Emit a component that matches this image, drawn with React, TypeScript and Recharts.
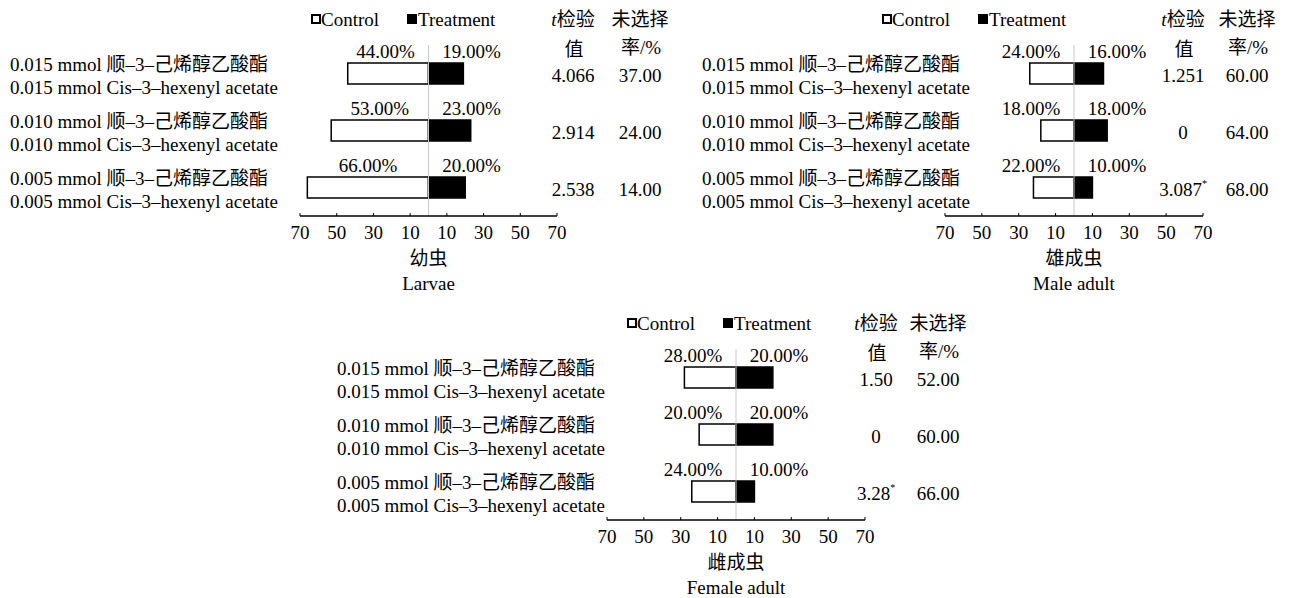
import React from 'react';
import { BarChart, Bar, XAxis, YAxis, ReferenceLine, LabelList } from 'recharts';

const FONT = "'Liberation Serif', 'Times New Roman', 'Noto Sans CJK SC', serif";
const FS = 19;

const doseCn = ['0.015 mmol 顺–3–己烯醇乙酸酯', '0.010 mmol 顺–3–己烯醇乙酸酯', '0.005 mmol 顺–3–己烯醇乙酸酯'];
const doseEn = ['0.015 mmol Cis–3–hexenyl acetate', '0.010 mmol Cis–3–hexenyl acetate', '0.005 mmol Cis–3–hexenyl acetate'];
const xTicks = [-70, -50, -30, -10, 10, 30, 50, 70];

const larvaeControl = [44, 53, 66];
const larvaeTreatment = [19, 23, 20];
const larvaeT = ['4.066', '2.914', '2.538'];
const larvaeSig = [false, false, false];
const larvaeRate = ['37.00', '24.00', '14.00'];

const maleControl = [24, 18, 22];
const maleTreatment = [16, 18, 10];
const maleT = ['1.251', '0', '3.087'];
const maleSig = [false, false, true];
const maleRate = ['60.00', '64.00', '68.00'];

const femaleControl = [28, 20, 24];
const femaleTreatment = [20, 20, 10];
const femaleT = ['1.50', '0', '3.28'];
const femaleSig = [false, false, true];
const femaleRate = ['52.00', '60.00', '66.00'];

type Row = { name: string; en: string; control: number; treatment: number; t: string; sig: boolean; rate: string };

const buildRows = (c: number[], tr: number[], t: string[], sig: boolean[], rate: string[]): Row[] =>
  doseCn.map((name, i) => ({ name, en: doseEn[i], control: -c[i], treatment: tr[i], t: t[i], sig: sig[i], rate: rate[i] }));

const PLOT_TOP = 45;
const AXIS_Y = 216;
const TICK_MARGIN = 6;

const XTick = (props: any) => {
  const { x, y, payload } = props;
  const ay = y - TICK_MARGIN;
  return (
    <g>
      <line x1={x} x2={x} y1={ay} y2={ay - 3} stroke="#000" strokeWidth={1} />
      <text x={x} y={ay + 22.5} textAnchor="middle" fontFamily={FONT} fontSize={FS} fill="#000">
        {Math.abs(payload.value)}
      </text>
    </g>
  );
};

const YTick = (props: any) => {
  const { y, payload, rows, labelX, tX, rateX } = props;
  const i = (rows as Row[]).findIndex((r) => r.name === payload.value);
  const r: Row = rows[i];
  if (!r) return null;
  return (
    <g>
      <text x={labelX} y={y - 3} textAnchor="start" fontFamily={FONT} fontSize={FS} fill="#000">{r.name}</text>
      <text x={labelX} y={y + 20} textAnchor="start" fontFamily={FONT} fontSize={FS} fill="#000">{r.en}</text>
      <text x={tX} y={y + 8} textAnchor="middle" fontFamily={FONT} fontSize={FS} fill="#000">
        {r.t}
        {r.sig ? <tspan dy={-9} fontSize={10}>*</tspan> : null}
      </text>
      <text x={rateX} y={y + 8} textAnchor="middle" fontFamily={FONT} fontSize={FS} fill="#000">{r.rate}</text>
    </g>
  );
};

const ValLabel = (props: any) => {
  const { x, y, width, height, value, side } = props;
  const l = Math.min(x, x + width);
  const rr = Math.max(x, x + width);
  const top = Math.min(y, y + height);
  let cx: number;
  if (side === 'control') cx = Math.min((l + rr) / 2, rr - 43);
  else cx = l + 43;
  return (
    <text x={cx} y={top - 5} textAnchor="middle" fontFamily={FONT} fontSize={FS} fill="#000">
      {Math.abs(value).toFixed(2) + '%'}
    </text>
  );
};

const Decor = (props: any) => {
  const { zeroX, titleCn, titleEn, legendX, tX, rateX } = props;
  const ly = 19;
  return (
    <g fontFamily={FONT} fontSize={FS} fill="#000">
      <rect x={legendX + 1} y={ly - 4} width={8} height={8} fill="#fff" stroke="#000" strokeWidth={2} />
      <text x={legendX + 10} y={ly + 6.5}>Control</text>
      <rect x={legendX + 96} y={ly - 5} width={10} height={10} fill="#000" />
      <text x={legendX + 107} y={ly + 6.5}>Treatment</text>
      <text x={tX} y={ly + 6.5} textAnchor="middle">
        <tspan fontStyle="italic">t</tspan>检验
      </text>
      <text x={tX + 1} y={ly + 36.5} textAnchor="middle">值</text>
      <text x={rateX} y={ly + 6.5} textAnchor="middle">未选择</text>
      <text x={rateX + 1} y={ly + 35} textAnchor="middle">率/%</text>
      <text x={zeroX} y={AXIS_Y + 48.5} textAnchor="middle">{titleCn}</text>
      <text x={zeroX} y={AXIS_Y + 73.5} textAnchor="middle">{titleEn}</text>
    </g>
  );
};

type PanelProps = {
  left: number; top: number; width: number; height: number;
  plotLeft: number; plotRight: number; labelX: number; tX: number; rateX: number; legendX: number;
  titleCn: string; titleEn: string; rows: Row[];
};

const Panel = (p: PanelProps) => {
  const zeroX = (p.plotLeft + p.plotRight) / 2;
  return (
    <div style={{ position: 'absolute', left: p.left, top: p.top, width: p.width, height: p.height }}>
      <BarChart
        width={p.width}
        height={p.height}
        data={p.rows}
        layout="vertical"
        stackOffset="sign"
        barSize={21}
        margin={{ top: PLOT_TOP, right: p.width - p.plotRight, bottom: 0, left: 0 }}
      >
        <XAxis
          type="number"
          domain={[-70, 70]}
          ticks={xTicks}
          interval={0}
          allowDataOverflow
          height={p.height - AXIS_Y}
          tickSize={0}
          tickMargin={TICK_MARGIN}
          tickLine={false}
          axisLine={{ stroke: '#000', strokeWidth: 1.5 }}
          tick={<XTick />}
          label={<Decor zeroX={zeroX} titleCn={p.titleCn} titleEn={p.titleEn} legendX={p.legendX} tX={p.tX} rateX={p.rateX} />}
        />
        <YAxis
          type="category"
          dataKey="name"
          width={p.plotLeft}
          axisLine={false}
          tickLine={false}
          interval={0}
          tick={<YTick rows={p.rows} labelX={p.labelX} tX={p.tX} rateX={p.rateX} />}
        />
        <ReferenceLine x={0} stroke="#c8c8c8" strokeWidth={1} />
        <Bar dataKey="control" stackId="s" fill="#fff" stroke="#000" strokeWidth={1.5} isAnimationActive={false}>
          <LabelList dataKey="control" content={<ValLabel side="control" />} />
        </Bar>
        <Bar dataKey="treatment" stackId="s" fill="#000" stroke="#000" strokeWidth={1.5} isAnimationActive={false}>
          <LabelList dataKey="treatment" content={<ValLabel side="treatment" />} />
        </Bar>
      </BarChart>
    </div>
  );
};

export default function App() {
  const larvae = buildRows(larvaeControl, larvaeTreatment, larvaeT, larvaeSig, larvaeRate);
  const male = buildRows(maleControl, maleTreatment, maleT, maleSig, maleRate);
  const female = buildRows(femaleControl, femaleTreatment, femaleT, femaleSig, femaleRate);
  return (
    <div style={{ position: 'absolute', left: 0, top: 0, width: 1289, height: 598, background: '#fff', overflow: 'hidden' }}>
      <Panel left={0} top={0} width={700} height={300} plotLeft={300} plotRight={557} labelX={10} tX={573} rateX={640} legendX={311}
        titleCn="幼虫" titleEn="Larvae" rows={larvae} />
      <Panel left={692} top={0} width={597} height={300} plotLeft={253} plotRight={511} labelX={10} tX={491} rateX={555} legendX={190}
        titleCn="雄成虫" titleEn="Male adult" rows={male} />
      <Panel left={327} top={304} width={680} height={294} plotLeft={280} plotRight={538} labelX={10} tX={549} rateX={611} legendX={300}
        titleCn="雌成虫" titleEn="Female adult" rows={female} />
    </div>
  );
}
